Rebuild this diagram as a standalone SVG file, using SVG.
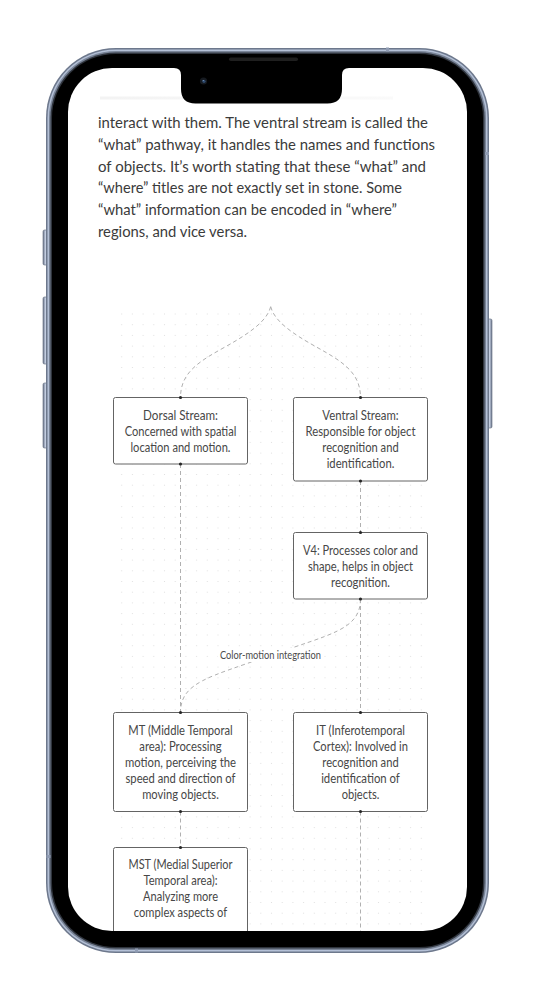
<svg xmlns="http://www.w3.org/2000/svg" width="535" height="1000" viewBox="0 0 535 1000">
  <defs>
    <style>
      .para{font-family:"Lato","Noto Sans",sans-serif;font-size:16px;fill:#3b3b3b}
      .node rect{fill:#fff;stroke:#646464;stroke-width:1}
      .node text{font-family:"Lato","Noto Sans",sans-serif;font-size:12.5px;fill:#474747;text-anchor:middle}
      .edge{fill:none;stroke:#b0b0b0;stroke-width:1;stroke-dasharray:4 3}
      .pt{fill:#262626}
      .lbl{font-family:"Lato","Noto Sans",sans-serif;font-size:10.5px;fill:#4a4a4a;text-anchor:middle}
      .btn{fill:url(#btnGrad);stroke:#5d6678;stroke-width:0.6}
    </style>
    <pattern id="dots" x="116.35" y="308.65" width="10.7" height="10.7" patternUnits="userSpaceOnUse">
      <circle cx="5.35" cy="5.35" r="0.6" fill="#dcdcdc"/>
    </pattern>
    <linearGradient id="btnGrad" x1="0" y1="0" x2="1" y2="0">
      <stop offset="0" stop-color="#6c768a"/>
      <stop offset="0.5" stop-color="#c3cde0"/>
      <stop offset="1" stop-color="#6c768a"/>
    </linearGradient>
    <linearGradient id="fade" x1="0" y1="0" x2="1" y2="0">
      <stop offset="0" stop-color="#9a9a9a" stop-opacity="0.12"/>
      <stop offset="1" stop-color="#9a9a9a" stop-opacity="0.05"/>
    </linearGradient>
    <clipPath id="screenClip">
      <rect x="68" y="68" width="399" height="863" rx="44"/>
    </clipPath>
  </defs>

  <rect width="535" height="1000" fill="#fff"/>

  <!-- side buttons -->
  <g id="buttons">
    <rect class="btn" x="43" y="230" width="5" height="35" rx="1.5"/>
    <rect class="btn" x="43" y="297" width="5" height="67" rx="1.5"/>
    <rect class="btn" x="43" y="383" width="5" height="65" rx="1.5"/>
    <rect class="btn" x="487" y="319" width="5" height="109" rx="1.5"/>
  </g>

  <!-- phone body: metal rim and bezel -->
  <g id="phone">
    <rect x="46" y="48" width="443" height="905" rx="70" fill="#6d788c"/>
    <rect x="47.5" y="49.5" width="440" height="902" rx="68.5" fill="#b4c0d6"/>
    <rect x="49" y="51" width="437" height="899" rx="67" fill="#7a8598"/>
    <rect x="50.5" y="52.5" width="434" height="896" rx="65.5" fill="#2f343d"/>
    <rect x="52" y="54" width="431" height="893" rx="64" fill="#000"/>
    <rect x="386" y="47.5" width="3" height="4" fill="#8f9bb2"/>
    <rect x="135" y="948.5" width="3" height="4" fill="#8f9bb2"/>
    <rect x="46.5" y="855" width="4" height="3" fill="#8f9bb2"/>
    <rect x="485" y="152" width="4" height="3" fill="#8f9bb2"/>
  </g>

  <!-- screen -->
  <g id="screen" clip-path="url(#screenClip)">
    <rect x="68" y="68" width="399" height="863" fill="#fff"/>
    <rect x="100" y="96.5" width="293" height="3" fill="url(#fade)"/>

    <g id="paragraph">
      <text class="para" x="98" y="128.3" textLength="330" lengthAdjust="spacingAndGlyphs">interact with them. The ventral stream is called the</text>
      <text class="para" x="98" y="150" textLength="337" lengthAdjust="spacingAndGlyphs">“what” pathway, it handles the names and functions</text>
      <text class="para" x="98" y="171.7" textLength="328" lengthAdjust="spacingAndGlyphs">of objects. It’s worth stating that these “what” and</text>
      <text class="para" x="98" y="193.3" textLength="304" lengthAdjust="spacingAndGlyphs">“where” titles are not exactly set in stone. Some</text>
      <text class="para" x="98" y="215" textLength="299" lengthAdjust="spacingAndGlyphs">“what” information can be encoded in “where”</text>
      <text class="para" x="98" y="236.7" textLength="149" lengthAdjust="spacingAndGlyphs">regions, and vice versa.</text>
    </g>

    <!-- dotted canvas of the flowchart -->
    <rect x="117" y="309" width="312" height="630" fill="url(#dots)"/>

    <g id="connectors">
      <path class="edge" d="M270.7,306.7 C267,321 250,333 225,347 C200,361 180.5,372 180.5,397.5"/>
      <path class="edge" d="M270.7,306.7 C274.4,321 291.4,333 316.4,347 C341.4,361 360.5,372 360.5,397.5"/>
      <path class="edge" d="M180.5,464 V712.5"/>
      <path class="edge" d="M360.5,481 V532.5"/>
      <path class="edge" d="M360.5,599 V712.5"/>
      <path class="edge" d="M360.5,599 C360.5,630 330,634 270,655.5 C210,677 180.5,682 180.5,712.5"/>
      <path class="edge" d="M180.5,811.5 V847.5"/>
      <path class="edge" d="M360.5,811.5 V945"/>
      <rect x="218" y="648" width="105" height="14" fill="#fff"/>
      <text class="lbl" x="270.5" y="659" textLength="101" lengthAdjust="spacingAndGlyphs">Color-motion integration</text>
    </g>

    <g id="dorsal" class="node">
      <rect x="113.5" y="397.5" width="134" height="66.5" rx="2"/>
      <text x="180.5" y="420" textLength="75" lengthAdjust="spacingAndGlyphs">Dorsal Stream:</text>
      <text x="180.5" y="436" textLength="111.7" lengthAdjust="spacingAndGlyphs">Concerned with spatial</text>
      <text x="180.5" y="452" textLength="100" lengthAdjust="spacingAndGlyphs">location and motion.</text>
    </g>

    <g id="ventral" class="node">
      <rect x="293.5" y="397.5" width="134" height="83.5" rx="2"/>
      <text x="360.5" y="420" textLength="76.3" lengthAdjust="spacingAndGlyphs">Ventral Stream:</text>
      <text x="360.5" y="436" textLength="110" lengthAdjust="spacingAndGlyphs">Responsible for object</text>
      <text x="360.5" y="452" textLength="76.3" lengthAdjust="spacingAndGlyphs">recognition and</text>
      <text x="360.5" y="468" textLength="67.7" lengthAdjust="spacingAndGlyphs">identification.</text>
    </g>

    <g id="v4" class="node">
      <rect x="293.5" y="532.5" width="134" height="66.5" rx="2"/>
      <text x="360.5" y="554.5" textLength="115" lengthAdjust="spacingAndGlyphs">V4: Processes color and</text>
      <text x="360.5" y="570.5" textLength="105" lengthAdjust="spacingAndGlyphs">shape, helps in object</text>
      <text x="360.5" y="586.5" textLength="59" lengthAdjust="spacingAndGlyphs">recognition.</text>
    </g>

    <g id="mt" class="node">
      <rect x="113.5" y="712.5" width="134" height="99" rx="2"/>
      <text x="180.5" y="734.5" textLength="104.3" lengthAdjust="spacingAndGlyphs">MT (Middle Temporal</text>
      <text x="180.5" y="750.5" textLength="82.3" lengthAdjust="spacingAndGlyphs">area): Processing</text>
      <text x="180.5" y="766.5" textLength="111" lengthAdjust="spacingAndGlyphs">motion, perceiving the</text>
      <text x="180.5" y="782.5" textLength="110" lengthAdjust="spacingAndGlyphs">speed and direction of</text>
      <text x="180.5" y="798.5" textLength="76.7" lengthAdjust="spacingAndGlyphs">moving objects.</text>
    </g>

    <g id="it" class="node">
      <rect x="293.5" y="712.5" width="134" height="99" rx="2"/>
      <text x="360.5" y="734.5" textLength="89" lengthAdjust="spacingAndGlyphs">IT (Inferotemporal</text>
      <text x="360.5" y="750.5" textLength="95" lengthAdjust="spacingAndGlyphs">Cortex): Involved in</text>
      <text x="360.5" y="766.5" textLength="76.3" lengthAdjust="spacingAndGlyphs">recognition and</text>
      <text x="360.5" y="782.5" textLength="78.7" lengthAdjust="spacingAndGlyphs">identification of</text>
      <text x="360.5" y="798.5" textLength="37.7" lengthAdjust="spacingAndGlyphs">objects.</text>
    </g>

    <g id="mst" class="node">
      <rect x="113.5" y="847.5" width="134" height="120" rx="2"/>
      <text x="180.5" y="869" textLength="104" lengthAdjust="spacingAndGlyphs">MST (Medial Superior</text>
      <text x="180.5" y="885" textLength="74" lengthAdjust="spacingAndGlyphs">Temporal area):</text>
      <text x="180.5" y="901" textLength="75" lengthAdjust="spacingAndGlyphs">Analyzing more</text>
      <text x="180.5" y="917" textLength="93.3" lengthAdjust="spacingAndGlyphs">complex aspects of</text>
    </g>

    <!-- endpoint markers -->
    <g id="endpoints">
      <circle class="pt" cx="180.5" cy="397.5" r="1.6"/>
      <circle class="pt" cx="360.5" cy="397.5" r="1.6"/>
      <circle class="pt" cx="180.5" cy="464" r="1.6"/>
      <circle class="pt" cx="360.5" cy="481" r="1.6"/>
      <circle class="pt" cx="360.5" cy="532.5" r="1.6"/>
      <circle class="pt" cx="360.5" cy="599" r="1.6"/>
      <circle class="pt" cx="180.5" cy="712.5" r="1.6"/>
      <circle class="pt" cx="360.5" cy="712.5" r="1.6"/>
      <circle class="pt" cx="180.5" cy="811.5" r="1.6"/>
      <circle class="pt" cx="360.5" cy="811.5" r="1.6"/>
      <circle class="pt" cx="180.5" cy="847.5" r="1.6"/>
    </g>
  </g>

  <!-- notch, speaker and camera -->
  <g id="notch">
    <path d="M174,66 L174,68 Q181,68 181,75 L181,89 Q181,103.5 195.5,103.5 L327.5,103.5 Q342,103.5 342,89 L342,75 Q342,68 349,68 L349,66 Z" fill="#000"/>
    <rect x="229" y="57.5" width="69" height="3.5" rx="1.75" fill="#1f1f1f"/>
    <circle cx="203.5" cy="81" r="3.6" fill="#161a20"/>
    <circle cx="204" cy="81.3" r="1.6" fill="#2f4a6e"/>
    <circle cx="203.2" cy="80.5" r="0.6" fill="#8fb0d8"/>
  </g>
</svg>
